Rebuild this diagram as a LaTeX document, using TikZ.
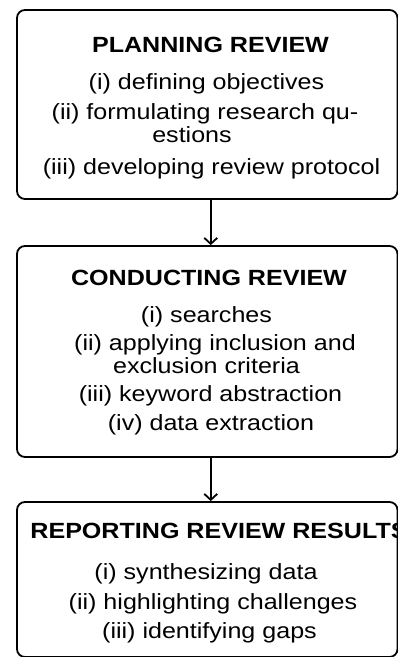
\documentclass[tikz,border=0pt]{standalone}
\usepackage{fontspec}
\setmainfont{Liberation Sans}[FakeStretch=1.14]
\usetikzlibrary{arrows.meta}
\begin{document}
\begin{tikzpicture}[x=1pt,y=-1pt,
	stage/.style={draw=black,line width=1.8pt,rounded corners=8pt,minimum width=380.5pt,inner sep=0pt},
	head/.style={anchor=base,inner sep=0pt,font=\fontsize{22}{26}\selectfont\bfseries},
	item/.style={anchor=base,inner sep=0pt,font=\fontsize{22}{26}\selectfont},
	flow/.style={line width=1.8pt,-{Straight Barb[length=6pt,width=13pt,line width=1.8pt]}}]
	\useasboundingbox (0,0) rectangle (398,657);
	\node [stage,minimum height=189pt] (plan) at (207.25,104.5) {};
	\node [head] (plantitle) at (210.5,52) {PLANNING REVIEW};
	\node [item] (plan1) at (206.5,89) {(i) defining objectives};
	\node [item] (plan2) at (205,119) {(ii) formulating research qu-};
	\node [item] (plan3) at (192,142) {estions};
	\node [item] (plan4) at (211.5,174) {(iii) developing review protocol};
	\node [stage,minimum height=211pt] (conduct) at (207.25,351.5) {};
	\node [head] (conducttitle) at (209,285) {CONDUCTING REVIEW};
	\node [item] (conduct1) at (206.5,322) {(i) searches};
	\node [item] (conduct2) at (215,350) {(ii) applying inclusion and};
	\node [item] (conduct3) at (206.5,373) {exclusion criteria};
	\node [item] (conduct4) at (210.5,401) {(iii) keyword abstraction};
	\node [item] (conduct5) at (211,430) {(iv) data extraction};
	\node [stage,minimum height=155pt] (report) at (207.25,579.5) {};
	\node [head] (reporttitle) at (219,538) {REPORTING REVIEW RESULTS};
	\node [item] (report1) at (206,579) {(i) synthesizing data};
	\node [item] (report2) at (213,609) {(ii) highlighting challenges};
	\node [item] (report3) at (209.5,638) {(iii) identifying gaps};
	\draw [flow] ([xshift=3.5pt]plan.south) -- ([xshift=3.5pt]conduct.north);
	\draw [flow] ([xshift=3.5pt]conduct.south) -- ([xshift=3.5pt]report.north);
\end{tikzpicture}
\end{document}
